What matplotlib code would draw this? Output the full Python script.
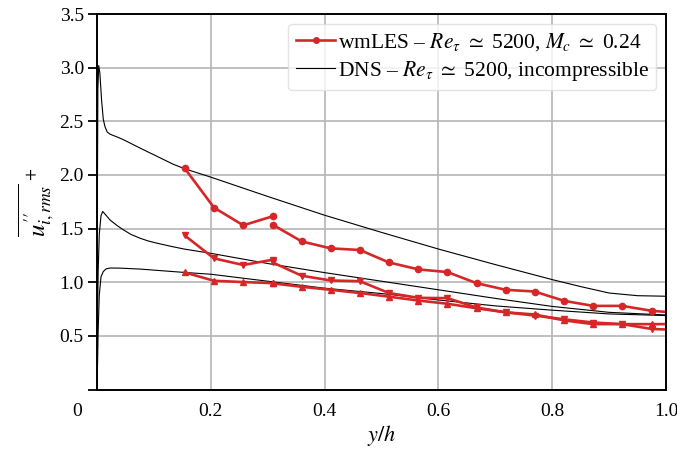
import numpy as np
import matplotlib
matplotlib.use("Agg")
import matplotlib.pyplot as plt

plt.rcParams['font.family'] = ['Liberation Serif', 'DejaVu Serif']
plt.rcParams['mathtext.fontset'] = 'stix'

# wmLES profiles, two wall-model patches (split at y/h ~ 0.31)
les_x1 = [0.154, 0.2056, 0.257, 0.3087]
les_x2 = [0.3087, 0.3597, 0.4107, 0.462, 0.513, 0.565, 0.616, 0.667, 0.718,
          0.769, 0.821, 0.872, 0.923, 0.975, 1.0]

uu_1 = [2.063, 1.696, 1.531, 1.615]
uu_2 = [1.537, 1.381, 1.316, 1.301, 1.185, 1.120, 1.095, 0.992, 0.930,
        0.914, 0.827, 0.780, 0.780, 0.734, 0.724]

ww_1 = [1.437, 1.223, 1.161, 1.210]
ww_2 = [1.185, 1.061, 1.017, 1.010, 0.900, 0.855, 0.852, 0.765, 0.720,
        0.690, 0.655, 0.625, 0.610, 0.565, 0.560]

vv_1 = [1.092, 1.014, 1.002, 0.992]
vv_2 = [0.990, 0.958, 0.930, 0.900, 0.866, 0.830, 0.800, 0.758, 0.720,
        0.700, 0.645, 0.610, 0.610, 0.610, 0.610]

# DNS reference profiles
dns_u_x = [0, 0.0005, 0.0015, 0.003, 0.005, 0.008, 0.011, 0.014, 0.018, 0.023,
           0.035, 0.046, 0.076, 0.105, 0.134, 0.153, 0.2, 0.3, 0.4, 0.5, 0.6,
           0.7, 0.8, 0.85, 0.9, 0.95, 1.0]
dns_u = [0, 1.6, 2.8, 3.02, 2.95, 2.70, 2.52, 2.45, 2.40, 2.38, 2.355, 2.33,
         2.25, 2.175, 2.10, 2.06, 1.98, 1.80, 1.625, 1.465, 1.31, 1.165, 1.025,
         0.96, 0.90, 0.875, 0.87]

dns_w_x = [0, 0.001, 0.002, 0.004, 0.007, 0.010, 0.015, 0.023, 0.035, 0.046,
           0.060, 0.076, 0.090, 0.105, 0.130, 0.153, 0.2, 0.3, 0.4, 0.5, 0.6,
           0.7, 0.8, 0.9, 1.0]
dns_w = [0, 0.7, 1.1, 1.45, 1.62, 1.66, 1.63, 1.58, 1.53, 1.49, 1.445, 1.41,
         1.385, 1.365, 1.335, 1.31, 1.27, 1.175, 1.09, 1.01, 0.93, 0.85,
         0.775, 0.72, 0.695]

dns_v_x = [0, 0.001, 0.002, 0.004, 0.007, 0.011, 0.016, 0.023, 0.04, 0.076,
           0.153, 0.2, 0.3, 0.4, 0.5, 0.6, 0.7, 0.8, 0.9, 1.0]
dns_v = [0, 0.25, 0.55, 0.88, 1.05, 1.10, 1.125, 1.133, 1.132, 1.123, 1.092,
         1.075, 1.01, 0.945, 0.895, 0.835, 0.78, 0.74, 0.705, 0.69]

red = '#d62728'

fig, ax = plt.subplots(figsize=(6.77, 4.53), dpi=100)
fig.subplots_adjust(left=0.1433, right=0.9837, bottom=0.140, top=0.969)

for xs, ys in [(dns_u_x, dns_u), (dns_w_x, dns_w), (dns_v_x, dns_v)]:
    ax.plot(xs, ys, color='black', lw=0.8, zorder=3)

les = [(uu_1, uu_2, 'o'), (ww_1, ww_2, 'v'), (vv_1, vv_2, '^')]
for y1, y2, m in les:
    ax.plot(les_x1, y1, color=red, lw=1.9, marker=m, ms=4.5, zorder=4)
    ax.plot(les_x2, y2, color=red, lw=1.9, marker=m, ms=4.5,
            markevery=slice(0, len(les_x2) - 1), zorder=4)

# legend proxies
ax.plot([], [], color=red, lw=1.9, marker='o', ms=4,
        label=r'wmLES – $Re_\tau\ \simeq$ 5200, $M_c\ \simeq$ 0.24')
ax.plot([], [], color='black', lw=0.8,
        label=r'DNS – $Re_\tau\ \simeq$ 5200, incompressible')
leg = ax.legend(loc='upper right', fontsize=15.5, handlelength=1.85,
                handletextpad=0.1, borderpad=0.35, labelspacing=0.25,
                borderaxespad=0.45, framealpha=0.8)
leg.get_frame().set_edgecolor('#dddddd')

ax.set_xlim(0, 1.0)
ax.set_ylim(0, 3.5)
ax.set_xticks([0, 0.2, 0.4, 0.6, 0.8, 1.0])
ax.set_xticklabels(['', '0.2', '0.4', '0.6', '0.8', '1.0'])
ax.set_xticks([0, 1.0], minor=True)
ax.set_yticks(np.arange(0, 3.51, 0.5))
ax.set_yticklabels([''] + ['%.1f' % v for v in np.arange(0.5, 3.51, 0.5)])

ax.tick_params(axis='x', which='major', length=0, pad=10, labelsize=14)
ax.tick_params(axis='x', which='minor', direction='out', length=6.5, width=1.3)
ax.tick_params(axis='y', direction='out', length=6.5, width=1.3, pad=3,
               labelsize=14)
ax.annotate('0', xy=(0, 0), xycoords='axes fraction', xytext=(-14, -10),
            textcoords='offset points', ha='center', va='top', fontsize=14)

ax.grid(True, which='major', color='#b5b5b5', lw=1.2, zorder=0)
ax.set_axisbelow(True)
for s in ax.spines.values():
    s.set_linewidth(1.4)
    s.set_zorder(5)

ax.set_xlabel('$y/h$', fontsize=16, labelpad=2)
ax.set_ylabel(r"$\overline{u^{\prime\prime}_{i,rms}}^{\,+}$", fontsize=18,
              labelpad=2)

plt.savefig('out.png', dpi=100)
